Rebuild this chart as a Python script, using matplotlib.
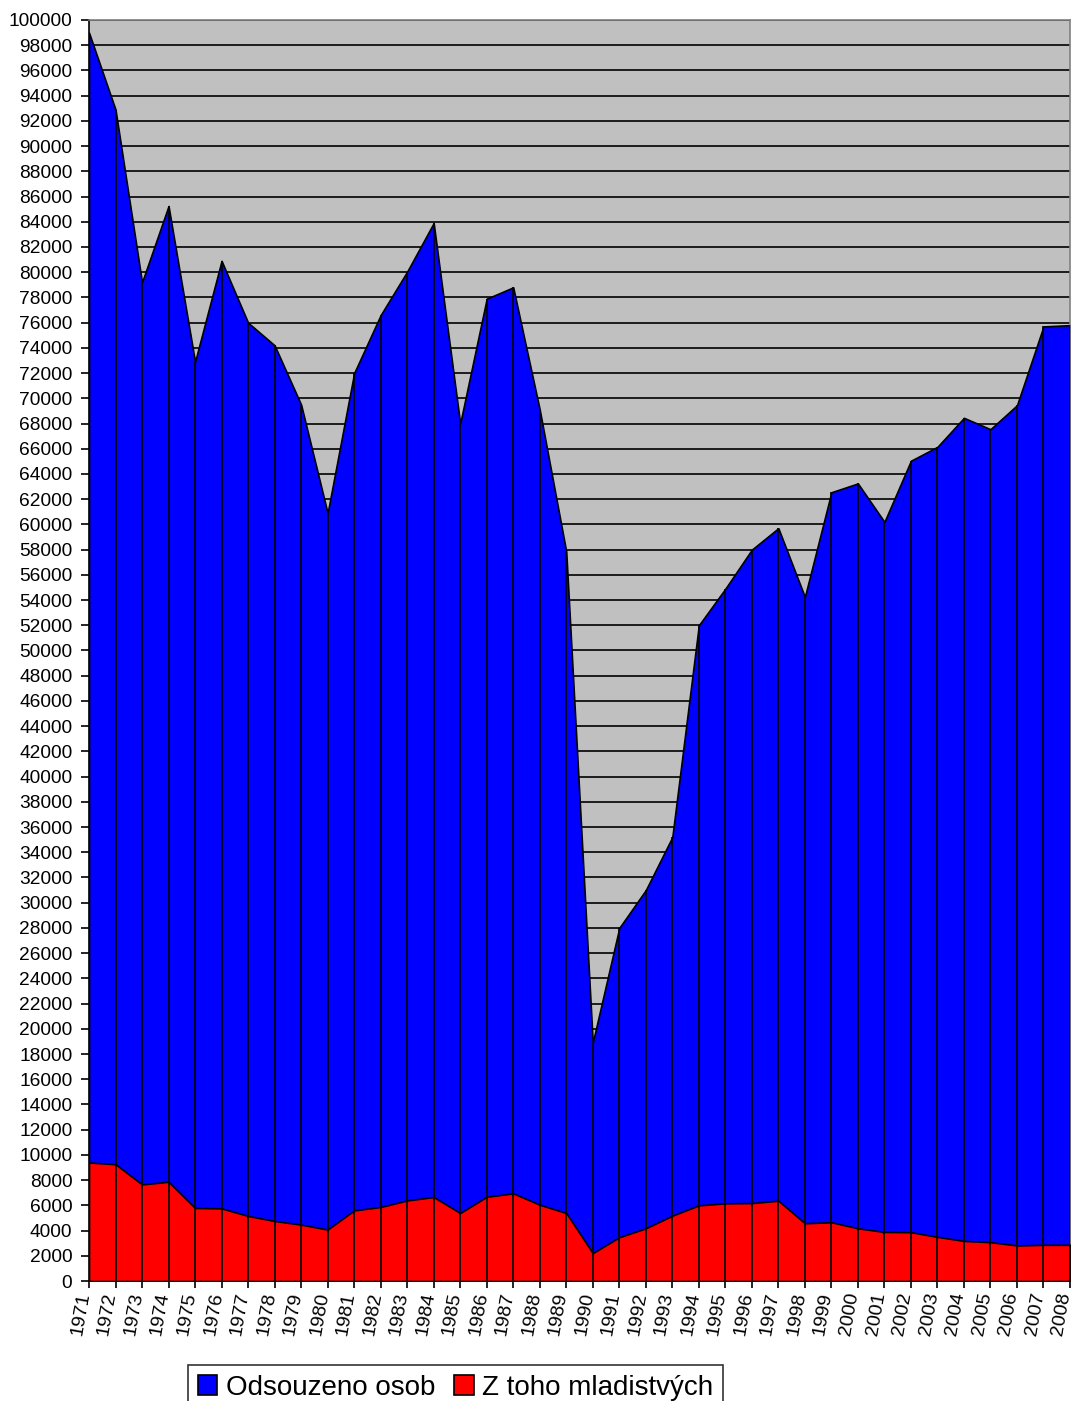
import matplotlib
matplotlib.use("Agg")
import matplotlib.pyplot as plt
import numpy as np

years = list(range(1971, 2009))
odsouzeno = [
    99000, 92900, 79200, 85250, 72900, 80900, 76000, 74200, 69500, 60900,
    72000, 76600, 80050, 83900, 68000, 77900, 78800, 69100, 57850, 18900,
    28000, 31000, 35200, 52000, 54900, 58000, 59700, 54250, 62550, 63250,
    60200, 65050, 66150, 68450, 67550, 69450, 75700, 75800,
]
mladistvych = [
    9400, 9260, 7660, 7870, 5790, 5760, 5160, 4760, 4470, 4080,
    5600, 5870, 6390, 6660, 5390, 6680, 6950, 6050, 5390, 2210,
    3470, 4180, 5180, 6000, 6160, 6180, 6370, 4580, 4660, 4180,
    3890, 3870, 3500, 3180, 3080, 2820, 2870, 2870,
]
labels = ["Odsouzeno osob", "Z toho mladistvých"]

plt.rcParams["font.family"] = ["Liberation Sans", "DejaVu Sans"]

W, H = 1074, 1401
fig = plt.figure(figsize=(W / 100, H / 100), dpi=100)
left, right, top, bottom = 89, 1070, 20, 1281
ax = fig.add_axes([left / W, 1 - bottom / H, (right - left) / W, (bottom - top) / H])

x = np.array(years)
ax.set_facecolor("#c0c0c0")
ax.fill_between(x, 0, odsouzeno, color="#0000ff", edgecolor="black", lw=1.2,
                label=labels[0], zorder=2)
ax.fill_between(x, 0, mladistvych, color="#ff0000", edgecolor="black", lw=1.2,
                label=labels[1], zorder=3)
# vertical drop lines at each category
ax.vlines(x, 0, odsouzeno, color="black", lw=1.2, zorder=4)

ax.set_xlim(years[0], years[-1])
ax.set_ylim(0, 100000)
ax.set_yticks(np.arange(0, 100001, 2000))
ax.set_yticklabels([str(v) for v in range(0, 100001, 2000)], fontsize=13.8)
ax.yaxis.grid(True, color="black", lw=1.2, zorder=1)
ax.set_axisbelow(True)

ax.set_xticks(years)
ax.set_xticklabels([str(y) for y in years], fontsize=14, rotation=80,
                   ha="right", va="baseline", rotation_mode="anchor")
ax.tick_params(axis="x", direction="out", length=5, width=1.2, pad=4)
ax.tick_params(axis="y", direction="out", length=6, width=1.2, pad=6)

for s in ["left", "bottom"]:
    ax.spines[s].set_color("black")
    ax.spines[s].set_linewidth(1.2)
for s in ["top", "right"]:
    ax.spines[s].set_color("#808080")
    ax.spines[s].set_linewidth(1.2)

leg = fig.legend(loc="upper left", bbox_to_anchor=(188 / W, 1 - 1365 / H),
                 ncol=2, fontsize=20, frameon=True, fancybox=False,
                 edgecolor="black", handlelength=0.7, handleheight=0.7,
                 handletextpad=0.3, columnspacing=0.7, borderpad=0.35,
                 borderaxespad=0)
leg.get_frame().set_linewidth(1.2)

fig.savefig("out.png", dpi=100)
